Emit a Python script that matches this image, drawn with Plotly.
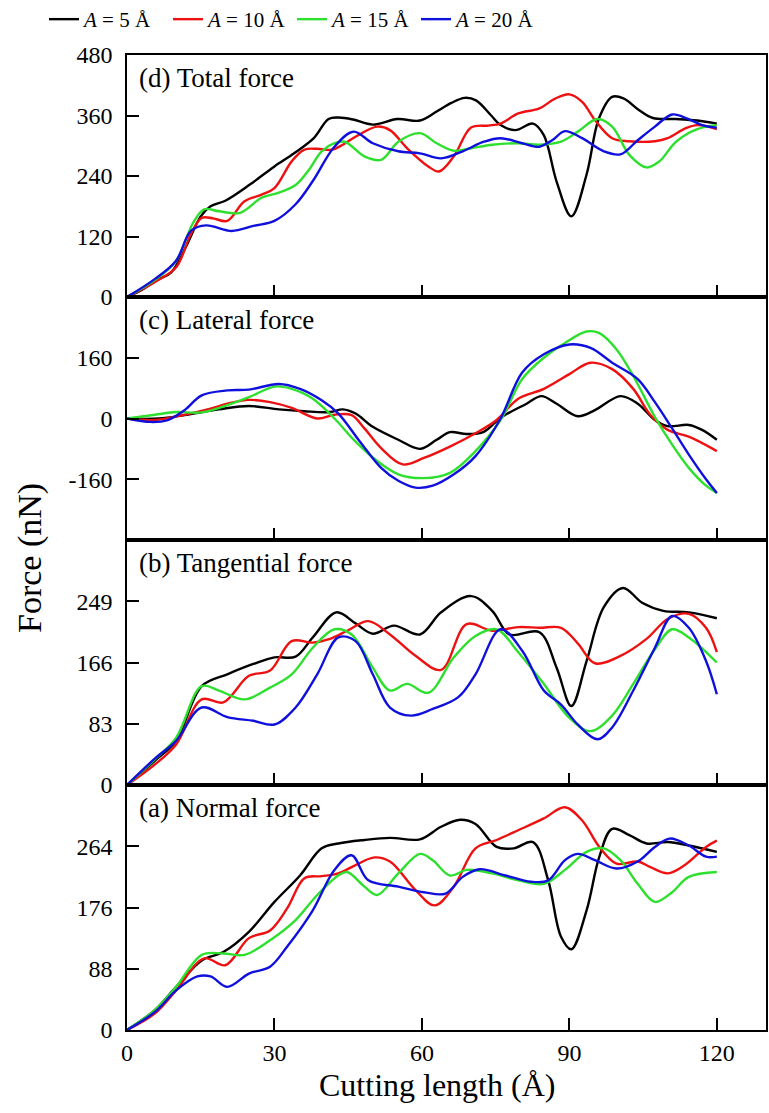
import plotly.graph_objects as go

# ---------------- data ----------------
series_names = ["<i>A</i> = 5 Å", "<i>A</i> = 10 Å", "<i>A</i> = 15 Å", "<i>A</i> = 20 Å"]
colors = ["#000000", "#ee1111", "#2ee02e", "#1010dd"]

# (d) Total force
tot_x5 = [0, 3, 6, 9, 12, 15, 17, 20, 25, 30, 34, 38, 41, 43, 46, 50, 55, 59.6, 63, 66, 68.7, 71, 74, 76, 79, 82.6, 84.8, 87.4, 90.4, 93.5, 96, 98.7, 101, 104, 107, 111.7, 116, 120]
tot_y5 = [0, 14, 33, 49, 100, 160, 180, 191, 223, 259, 285, 315, 353, 356, 352, 342, 353, 350, 368, 385, 395, 390, 361, 341, 331, 344, 321, 229, 160, 243, 354, 397, 394, 372, 355, 353, 350, 344]
tot_x10 = [0, 5.7, 10, 13, 15.2, 17.5, 20.4, 23.9, 27.4, 30, 33.5, 36, 38.7, 41.7, 43.9, 46.5, 50.9, 53.5, 57, 61.3, 63.5, 66.5, 70, 73.5, 76, 79.6, 83.9, 87, 90, 92.6, 95.2, 98.7, 102.2, 107.4, 110, 113.5, 116, 120]
tot_y10 = [0, 30, 59, 125, 157, 156, 151, 190, 203, 216, 269, 292, 294, 292, 302, 318, 338, 331, 295, 259, 249, 279, 336, 340, 344, 364, 374, 393, 402, 387, 351, 315, 309, 309, 315, 334, 341, 333]
tot_x15 = [0, 5.7, 10, 13.5, 15.7, 18.7, 23, 27.4, 30.9, 34.3, 37, 39.6, 42.2, 44.3, 48.3, 51.7, 55.2, 59.6, 63, 66.5, 70, 74.3, 79.6, 83.9, 88.3, 91.7, 95.7, 98.7, 102.2, 105.7, 108.3, 111.7, 116, 120]
tot_y15 = [0, 34, 72, 148, 174, 170, 167, 197, 207, 222, 252, 289, 305, 308, 279, 272, 308, 325, 305, 290, 295, 302, 305, 302, 308, 328, 353, 338, 282, 257, 269, 308, 333, 341]
tot_x20 = [0, 5.7, 10, 13, 16.1, 21.3, 25.7, 30, 34.3, 37.8, 42.2, 46.1, 50, 55.2, 59.6, 63.9, 68.3, 72.6, 76, 80.4, 83.9, 86.5, 89.1, 92.6, 97, 100.4, 103.9, 107.4, 110.9, 114, 117, 120]
tot_y20 = [0, 36, 72, 131, 142, 131, 141, 151, 184, 230, 298, 328, 305, 289, 285, 275, 289, 308, 315, 305, 298, 311, 329, 315, 289, 283, 311, 338, 362, 354, 341, 336]

# (c) Lateral force
lat_x5 = [0, 6.5, 11.7, 18.7, 24.8, 30.9, 36.1, 41.3, 43.9, 46.5, 50, 55.2, 59.6, 63, 65.7, 69.1, 72.6, 76, 81.3, 84.3, 87.4, 91.7, 95.2, 100.4, 103.9, 107.4, 110, 114.3, 117, 120]
lat_y5 = [0, 0, 9, 24, 33, 24, 19, 17, 24, 13, -22, -56, -80, -56, -36, -41, -35, 2, 39, 59, 39, 6, 22, 59, 39, -4, -20, -17, -30, -56]
lat_x10 = [0, 5.7, 11.7, 17, 20.4, 24.8, 29.1, 33.5, 38.7, 42.2, 45.7, 48.3, 51.7, 56.1, 60.4, 65.7, 70.9, 75.2, 79.6, 84.8, 90, 94.3, 98.7, 103, 106.5, 110, 114.3, 120]
lat_y10 = [0, -4, 10, 26, 39, 49, 43, 28, 0, 10, 9, -26, -78, -121, -104, -74, -39, -4, 52, 78, 117, 147, 130, 78, 9, -30, -48, -86]
lat_x15 = [0, 5.7, 10, 15.2, 20.4, 24.8, 30, 33.5, 37.8, 42.2, 46.5, 50.9, 55.2, 60.4, 65.7, 70.9, 76, 80.4, 84.8, 89.1, 93.5, 96.1, 99.6, 103, 107.4, 110.9, 114.3, 117.8, 120]
lat_y15 = [0, 10, 17, 16, 35, 56, 84, 78, 52, 0, -61, -112, -147, -157, -143, -86, -4, 104, 160, 199, 229, 225, 182, 112, 4, -69, -130, -177, -196]
lat_x20 = [0, 4.8, 8.3, 11.7, 15.2, 20.4, 24.8, 30.9, 35.2, 39.6, 43, 47.4, 51.7, 55.2, 58.7, 62.2, 66.5, 70.9, 76, 80.4, 84.8, 90, 94.3, 98.7, 103.9, 107.4, 110.9, 114.3, 117.8, 120]
lat_y20 = [0, -9, -4, 22, 61, 74, 76, 91, 78, 48, 13, -61, -130, -164, -182, -177, -147, -99, 0, 121, 169, 195, 186, 147, 104, 43, -26, -95, -160, -196]

# (b) Tangential force
tan_x5 = [0, 5.7, 10, 15.2, 20.4, 25.7, 30, 34.3, 37.8, 42.6, 46.5, 50, 54.3, 59.6, 63.9, 70, 74.3, 77.8, 83.9, 87.4, 90.4, 93.5, 97, 100.9, 104.8, 109.1, 114.3, 120]
tan_y5 = [0, 33, 60, 134, 150, 164, 173, 174, 200, 234, 219, 205, 216, 204, 234, 256, 236, 204, 207, 159, 107, 168, 241, 267, 247, 236, 234, 226]
tan_x10 = [0, 5.7, 10, 15.2, 19.6, 24.8, 29.1, 33.5, 37.8, 41.3, 44.8, 49.1, 53.5, 58.7, 63.9, 69.1, 74.3, 79.6, 83.9, 88.3, 91.7, 95.2, 100.4, 105.7, 110, 114.3, 117.8, 120]
tan_y10 = [0, 28, 55, 116, 112, 148, 155, 195, 193, 198, 209, 222, 204, 175, 156, 218, 209, 214, 213, 213, 192, 165, 175, 198, 225, 232, 213, 180]
tan_x15 = [0, 5.7, 10, 15.2, 18.7, 23.9, 29.1, 33.5, 37.8, 42.2, 45.7, 50, 53.5, 57, 61.3, 66.5, 70.9, 75.2, 79.6, 84.8, 90, 94.3, 98.7, 103, 107.4, 110.9, 114.3, 120]
tan_y15 = [0, 35, 64, 134, 128, 116, 132, 150, 186, 211, 204, 159, 128, 137, 125, 173, 202, 211, 180, 137, 91, 73, 94, 137, 184, 211, 200, 166]
tan_x20 = [0, 5.7, 10, 15.2, 20.4, 25.7, 30, 34.3, 38.7, 43, 46.5, 50, 53.5, 57.8, 62.2, 67.4, 70.9, 76, 80.4, 84.8, 88.3, 91.7, 95.7, 98.7, 103, 107.4, 110.9, 114.3, 117.8, 120]
tan_y20 = [0, 36, 60, 105, 92, 87, 82, 105, 150, 200, 195, 150, 105, 94, 103, 119, 150, 211, 182, 128, 109, 82, 62, 78, 128, 186, 229, 213, 168, 123]

# (a) Normal force
nor_x5 = [0, 5.7, 10, 15.2, 19.6, 24.8, 30, 35.2, 39.6, 43, 48.3, 53.5, 59.6, 63.9, 67.8, 70.9, 75.2, 78.7, 82.6, 85.7, 88.3, 90.4, 93.5, 96.1, 98.7, 102.2, 105.7, 110, 114.3, 120]
nor_y5 = [0, 29, 62, 100, 112, 141, 184, 222, 261, 268, 273, 276, 274, 292, 302, 296, 263, 261, 270, 215, 134, 116, 172, 249, 289, 280, 268, 270, 265, 256]
nor_x10 = [0, 5.7, 10, 15.7, 20, 24.8, 29.1, 32.6, 36.1, 39.6, 43, 46.5, 50.4, 53.5, 58.7, 62.6, 66.5, 70.9, 75.2, 79.6, 84.8, 89.1, 92.6, 96.1, 99.6, 103.9, 106.5, 110, 113.5, 117.8, 120]
nor_y10 = [0, 24, 57, 103, 93, 132, 143, 175, 218, 221, 225, 237, 248, 242, 201, 179, 206, 261, 273, 287, 304, 320, 301, 263, 239, 242, 234, 225, 237, 263, 272]
nor_x15 = [0, 5.7, 10, 15.2, 19.6, 23.9, 29.1, 34.3, 38.7, 43, 44.8, 48.3, 50.9, 55.2, 59.6, 62.2, 65.7, 69.1, 74.3, 79.6, 84.8, 89.1, 93.5, 97, 100.4, 103.9, 107.4, 110.9, 114.3, 120]
nor_y15 = [0, 29, 62, 108, 110, 108, 129, 158, 194, 222, 227, 206, 194, 225, 253, 244, 222, 230, 225, 215, 210, 230, 256, 261, 244, 210, 184, 198, 220, 227]
nor_x20 = [0, 5.7, 10, 14.3, 17, 20.4, 24.8, 29.1, 32.6, 37.8, 42.2, 45.7, 49.1, 55.2, 60.4, 64.8, 68.3, 71.7, 77, 82.2, 85.7, 89.1, 91.7, 95.2, 99.6, 103.9, 107.4, 110.4, 114.3, 117.8, 120]
nor_y20 = [0, 26, 57, 77, 77, 62, 81, 91, 120, 172, 230, 251, 215, 206, 198, 196, 220, 231, 222, 213, 215, 244, 253, 244, 232, 242, 263, 275, 265, 249, 249]

panel_labels = ["(d) Total force", "(c) Lateral force", "(b) Tangential force", "(a) Normal force"]
y_ticks = [[0, 120, 240, 360, 480], [-160, 0, 160], [0, 83, 166, 249], [0, 88, 176, 264]]
y_tick_text = [["0", "120", "240", "360", "480"], ["-160", "0", "160"], ["0", "83", "166", "249"], ["0", "88", "176", "264"]]
y_ranges = [[0, 480], [-320, 320], [0, 332], [0, 352]]
x_ticks = [0, 30, 60, 90, 120]
x_tick_text = ["0", "30", "60", "90", "120"]
x_range = [0, 130]

panels = [
    [(tot_x5, tot_y5), (tot_x10, tot_y10), (tot_x15, tot_y15), (tot_x20, tot_y20)],
    [(lat_x5, lat_y5), (lat_x10, lat_y10), (lat_x15, lat_y15), (lat_x20, lat_y20)],
    [(tan_x5, tan_y5), (tan_x10, tan_y10), (tan_x15, tan_y15), (tan_x20, tan_y20)],
    [(nor_x5, nor_y5), (nor_x10, nor_y10), (nor_x15, nor_y15), (nor_x20, nor_y20)],
]

# ---------------- figure ----------------
FONT = "Liberation Serif"
W, H = 769, 1113
ML, MR, MT, MB = 127, 3, 55, 83
PW = W - ML - MR
plot_h = H - MT - MB
bounds_px = [55, 297, 540, 785, 1030]

fig = go.Figure()
for p in range(4):
    idx = "" if p == 0 else str(p + 1)
    for s in range(4):
        xs, ys = panels[p][s]
        fig.add_trace(go.Scatter(
            x=xs, y=ys, mode="lines", name=series_names[s],
            line=dict(color=colors[s], width=2.4, shape="spline", smoothing=1.0),
            showlegend=(p == 0), legendgroup=str(s),
            xaxis="x" + idx, yaxis="y" + idx,
        ))
    top = (H - MB - bounds_px[p]) / plot_h
    bot = (H - MB - bounds_px[p + 1]) / plot_h
    common = dict(showline=True, linecolor="black", linewidth=1.6, mirror=True,
                  ticks="inside", ticklen=12, tickwidth=1.5, tickcolor="black",
                  showgrid=False, zeroline=False,
                  tickfont=dict(family=FONT, size=24, color="black"))
    fig.update_layout(**{
        "xaxis" + idx: dict(domain=[0, 1], range=x_range, tickvals=x_ticks, ticktext=x_tick_text,
                            showticklabels=(p == 3), anchor="y" + idx,
                            ticklabelstandoff=0, **common),
        "yaxis" + idx: dict(domain=[max(bot, 0), min(top, 1)], range=y_ranges[p],
                            tickvals=y_ticks[p], ticktext=y_tick_text[p], anchor="x" + idx,
                            ticklabelstandoff=8, **common),
    })
    fig.add_annotation(text=panel_labels[p], xref="x" + idx + " domain", yref="y" + idx + " domain",
                       x=0.016, y=0.975, xanchor="left", yanchor="top", showarrow=False,
                       font=dict(family=FONT, size=27, color="black"))

fig.add_annotation(text="Force (nN)", xref="paper", yref="paper",
                   x=(30 - ML) / PW, y=(H - MB - 558) / plot_h,
                   xanchor="center", yanchor="middle", textangle=-90, showarrow=False,
                   font=dict(family=FONT, size=34, color="black"))
fig.add_annotation(text="Cutting length (Å)", xref="paper", yref="paper",
                   x=(437 - ML) / PW, y=-(1085 - (H - MB)) / plot_h,
                   xanchor="center", yanchor="middle", showarrow=False,
                   font=dict(family=FONT, size=32, color="black"))

fig.update_layout(
    width=W, height=H,
    font=dict(family=FONT, color="black"),
    margin=dict(l=ML, r=MR, t=MT, b=MB, autoexpand=False),
    paper_bgcolor="white", plot_bgcolor="white",
    legend=dict(orientation="h", x=(44 - ML) / PW, xanchor="left",
                y=1 + (MT + 1) / plot_h, yanchor="top",
                font=dict(family=FONT, size=21, color="black"),
                bgcolor="rgba(0,0,0,0)", borderwidth=0, tracegroupgap=0,
                itemwidth=30, entrywidth=79, entrywidthmode="pixels"),
    showlegend=True,
)

fig.write_html("out.html")
